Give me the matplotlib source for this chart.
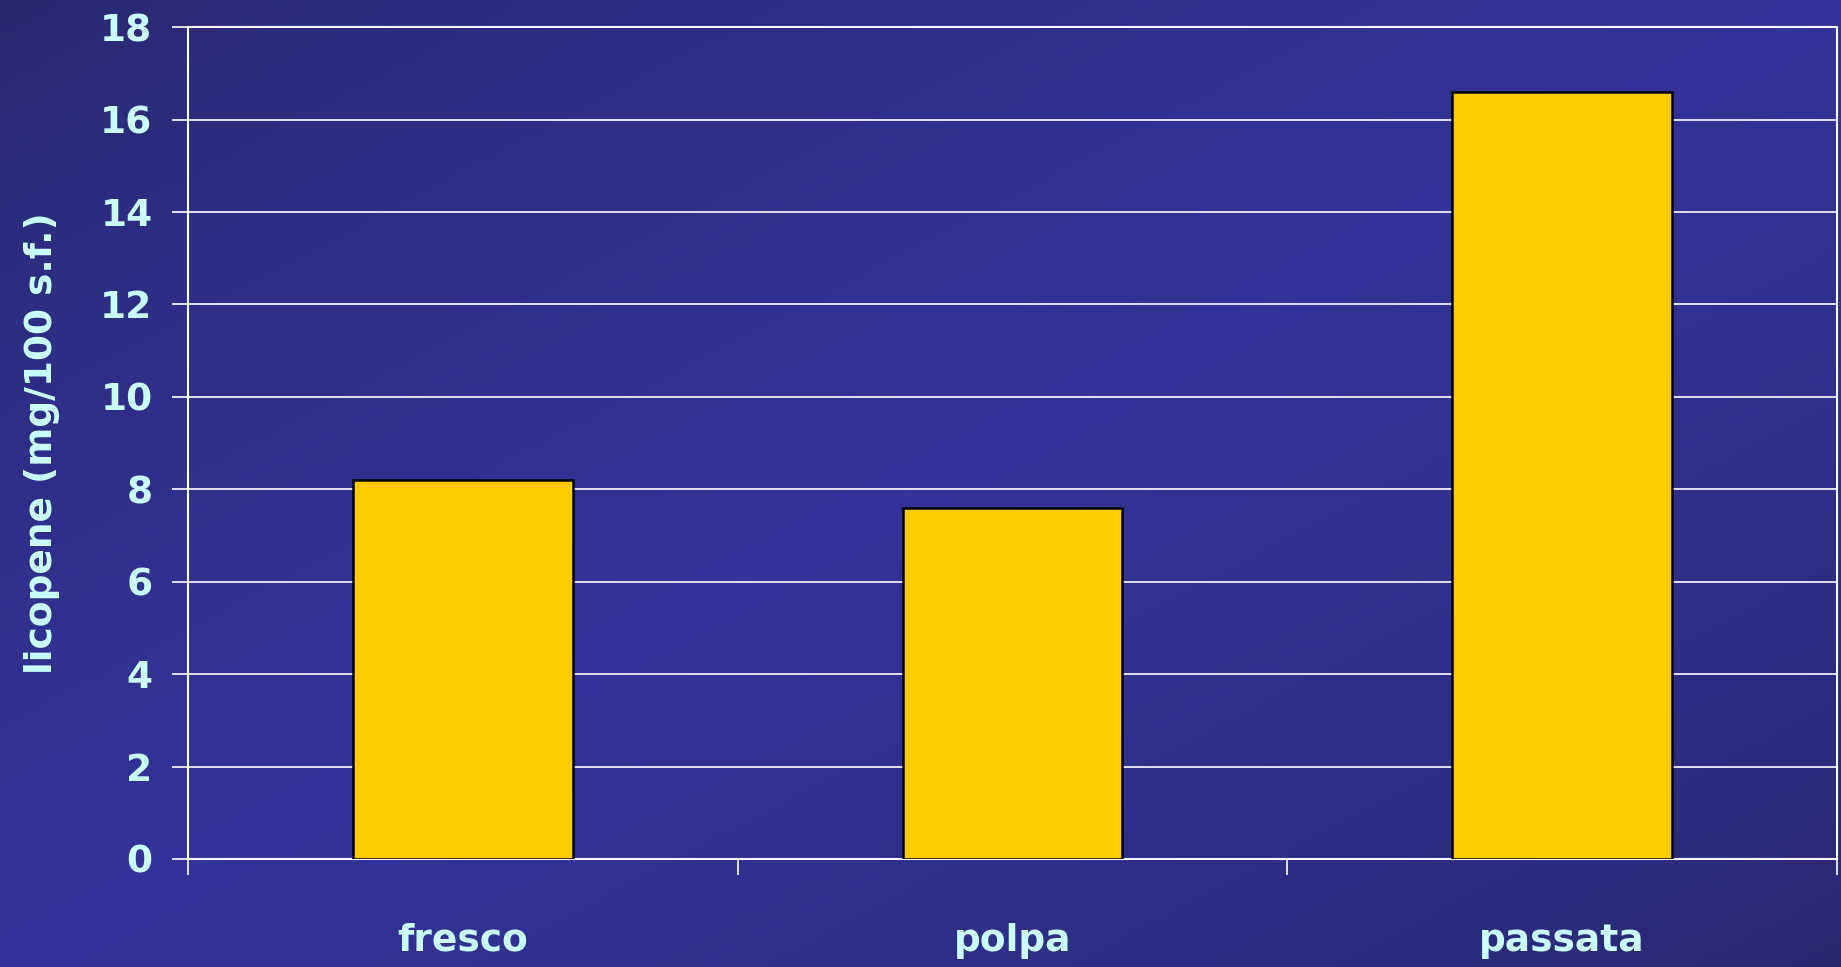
import numpy as np
import matplotlib
matplotlib.use("Agg")
import matplotlib.pyplot as plt
from matplotlib.colors import LinearSegmentedColormap

categories = ["fresco", "polpa", "passata"]
values = [8.2, 7.6, 16.6]
yticks = [0, 2, 4, 6, 8, 10, 12, 14, 16, 18]
ylabel = "licopene (mg/100 s.f.)"

TXT = "#ccffff"
fig = plt.figure(figsize=(18.41, 9.67), dpi=100)

# background gradient
bg = fig.add_axes([0, 0, 1, 1], zorder=-10)
h, w = 200, 380
yy, xx = np.mgrid[0:h, 0:w]
d = (xx / w + yy / h) / 2.0  # 0 top-left, 1 bottom-right
g = 1 - np.abs(d - 0.5) * 2
cmap = LinearSegmentedColormap.from_list("bg", ["#28286f", "#333399"])
bg.imshow(g ** 0.7, cmap=cmap, aspect="auto", extent=[0, 1, 0, 1], vmin=0, vmax=1)
bg.axis("off")

ax = fig.add_axes([0.1021, 0.1117, 0.8957, 0.8603])
ax.patch.set_alpha(0)
x = np.arange(len(categories)) + 0.5
ax.bar(x, values, width=0.4, color="#ffcc00", edgecolor="black", linewidth=1.8, zorder=3)
ax.set_xlim(0, len(categories))
ax.set_ylim(0, 18)
ax.set_yticks(yticks)
ax.yaxis.grid(True, color="white", linewidth=1.2, zorder=0)
ax.set_axisbelow(True)
for s in ax.spines.values():
    s.set_color("white")
    s.set_linewidth(1.5)
ax.set_xticks(x)
ax.set_xticklabels(categories)
ax.set_xticks(np.arange(len(categories) + 1), minor=True)
ax.tick_params(axis="x", which="major", length=0, pad=46, labelsize=27, labelcolor=TXT)
ax.tick_params(axis="x", which="minor", length=11.5, width=1.2, color="white", direction="out")
ax.tick_params(axis="y", length=11.5, width=1.2, color="white", direction="out",
               pad=14, labelsize=27, labelcolor=TXT)
for lab in ax.get_xticklabels() + ax.get_yticklabels():
    lab.set_fontweight("bold")
ax.set_ylabel(ylabel, color=TXT, fontsize=27, fontweight="bold", labelpad=29)

fig.savefig("out.png", dpi=100)
